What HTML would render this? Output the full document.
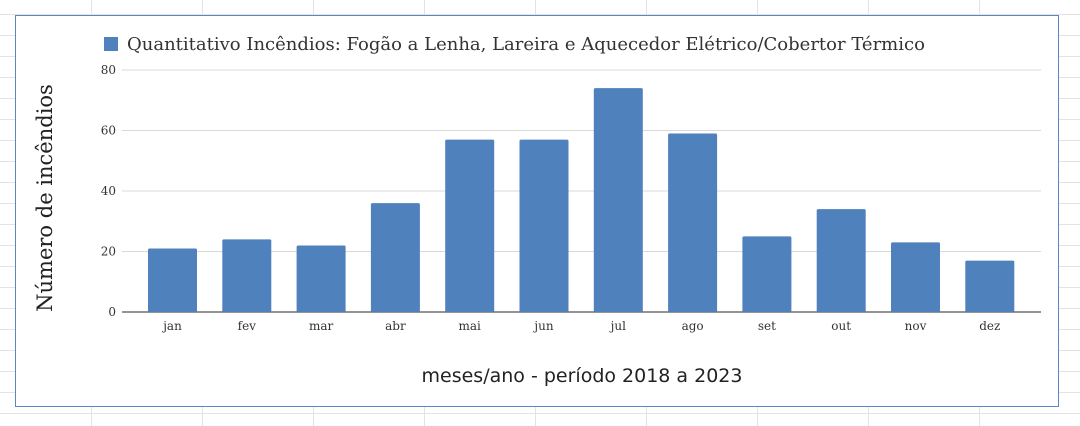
<!DOCTYPE html>
<html><head><meta charset="utf-8"><style>
body{margin:0;width:1080px;height:426px;overflow:hidden;background:#fff;
background-image:linear-gradient(to right,#e3e3e3 1px,transparent 1px),linear-gradient(to bottom,#e3e3e3 1px,transparent 1px);
background-size:111px 21px;background-position:91px 14px;}
#chart{position:absolute;left:15px;top:15px;width:1042px;height:390px;border:1.5px solid #5b86c4;background:#fff;}
</style></head><body>
<div id="chart"></div>
<svg id="svg" width="1080" height="426" style="position:absolute;left:0;top:0"></svg>
<script>
const categories=["jan","fev","mar","abr","mai","jun","jul","ago","set","out","nov","dez"];
const values=[21,24,22,36,57,57,74,59,25,34,23,17];
const ticks=[0,20,40,60,80];
const svg=document.getElementById('svg');
const NS='http://www.w3.org/2000/svg';
const x0=135.35,bw=74.3,y0=312,yScale=242/80;
const y=v=>y0-v*yScale;
const xc=i=>x0+bw*(i+0.5);
function mk(t,a,txt){const e=document.createElementNS(NS,t);for(const k in a)e.setAttribute(k,a[k]);if(txt!==undefined)e.textContent=txt;svg.appendChild(e);return e;}
const serif='"DejaVu Serif","Liberation Serif",serif';
ticks.forEach(t=>{
 const l=mk('line',{x1:122,x2:1041,y1:y(t),y2:y(t),stroke:t===0?'#555':'#d9d9d9','stroke-width':t===0?1.3:1});
 
 
 const tx=mk('text',{x:116,y:y(t)+4,'text-anchor':'end','font-family':serif,'font-size':12,fill:'#333'},String(t));
 
 
});
categories.forEach((c,i)=>{
 const v=values[i];
 const r=mk('rect',{x:xc(i)-24.5,y:y(v),width:49,height:y0-y(v),fill:'#4f81bd',rx:1.5});
 
 
 const tx=mk('text',{x:xc(i),y:330,'text-anchor':'middle','font-family':serif,'font-size':12,fill:'#333'},c);
 
 
});
</script>
<div style="position:absolute;left:104px;top:34px;font-family:'DejaVu Serif','Liberation Serif',serif;font-size:18px;color:#333;white-space:nowrap">
<span style="display:inline-block;width:14px;height:14px;background:#4f81bd;margin-right:9px;vertical-align:-1px"></span><span>Quantitativo Incêndios: Fogão a Lenha, Lareira e Aquecedor Elétrico/Cobertor Térmico</span></div>
<div style="position:absolute;left:45px;top:198px;transform:translate(-50%,-50%) rotate(-90deg);font-family:'DejaVu Serif','Liberation Serif',serif;font-size:21px;color:#222;white-space:nowrap">Número de incêndios</div>
<div style="position:absolute;left:582px;top:365px;transform:translateX(-50%);font-family:'DejaVu Sans','Liberation Sans',sans-serif;font-size:19px;color:#222;white-space:nowrap">meses/ano - período 2018 a 2023</div>
</body></html>
